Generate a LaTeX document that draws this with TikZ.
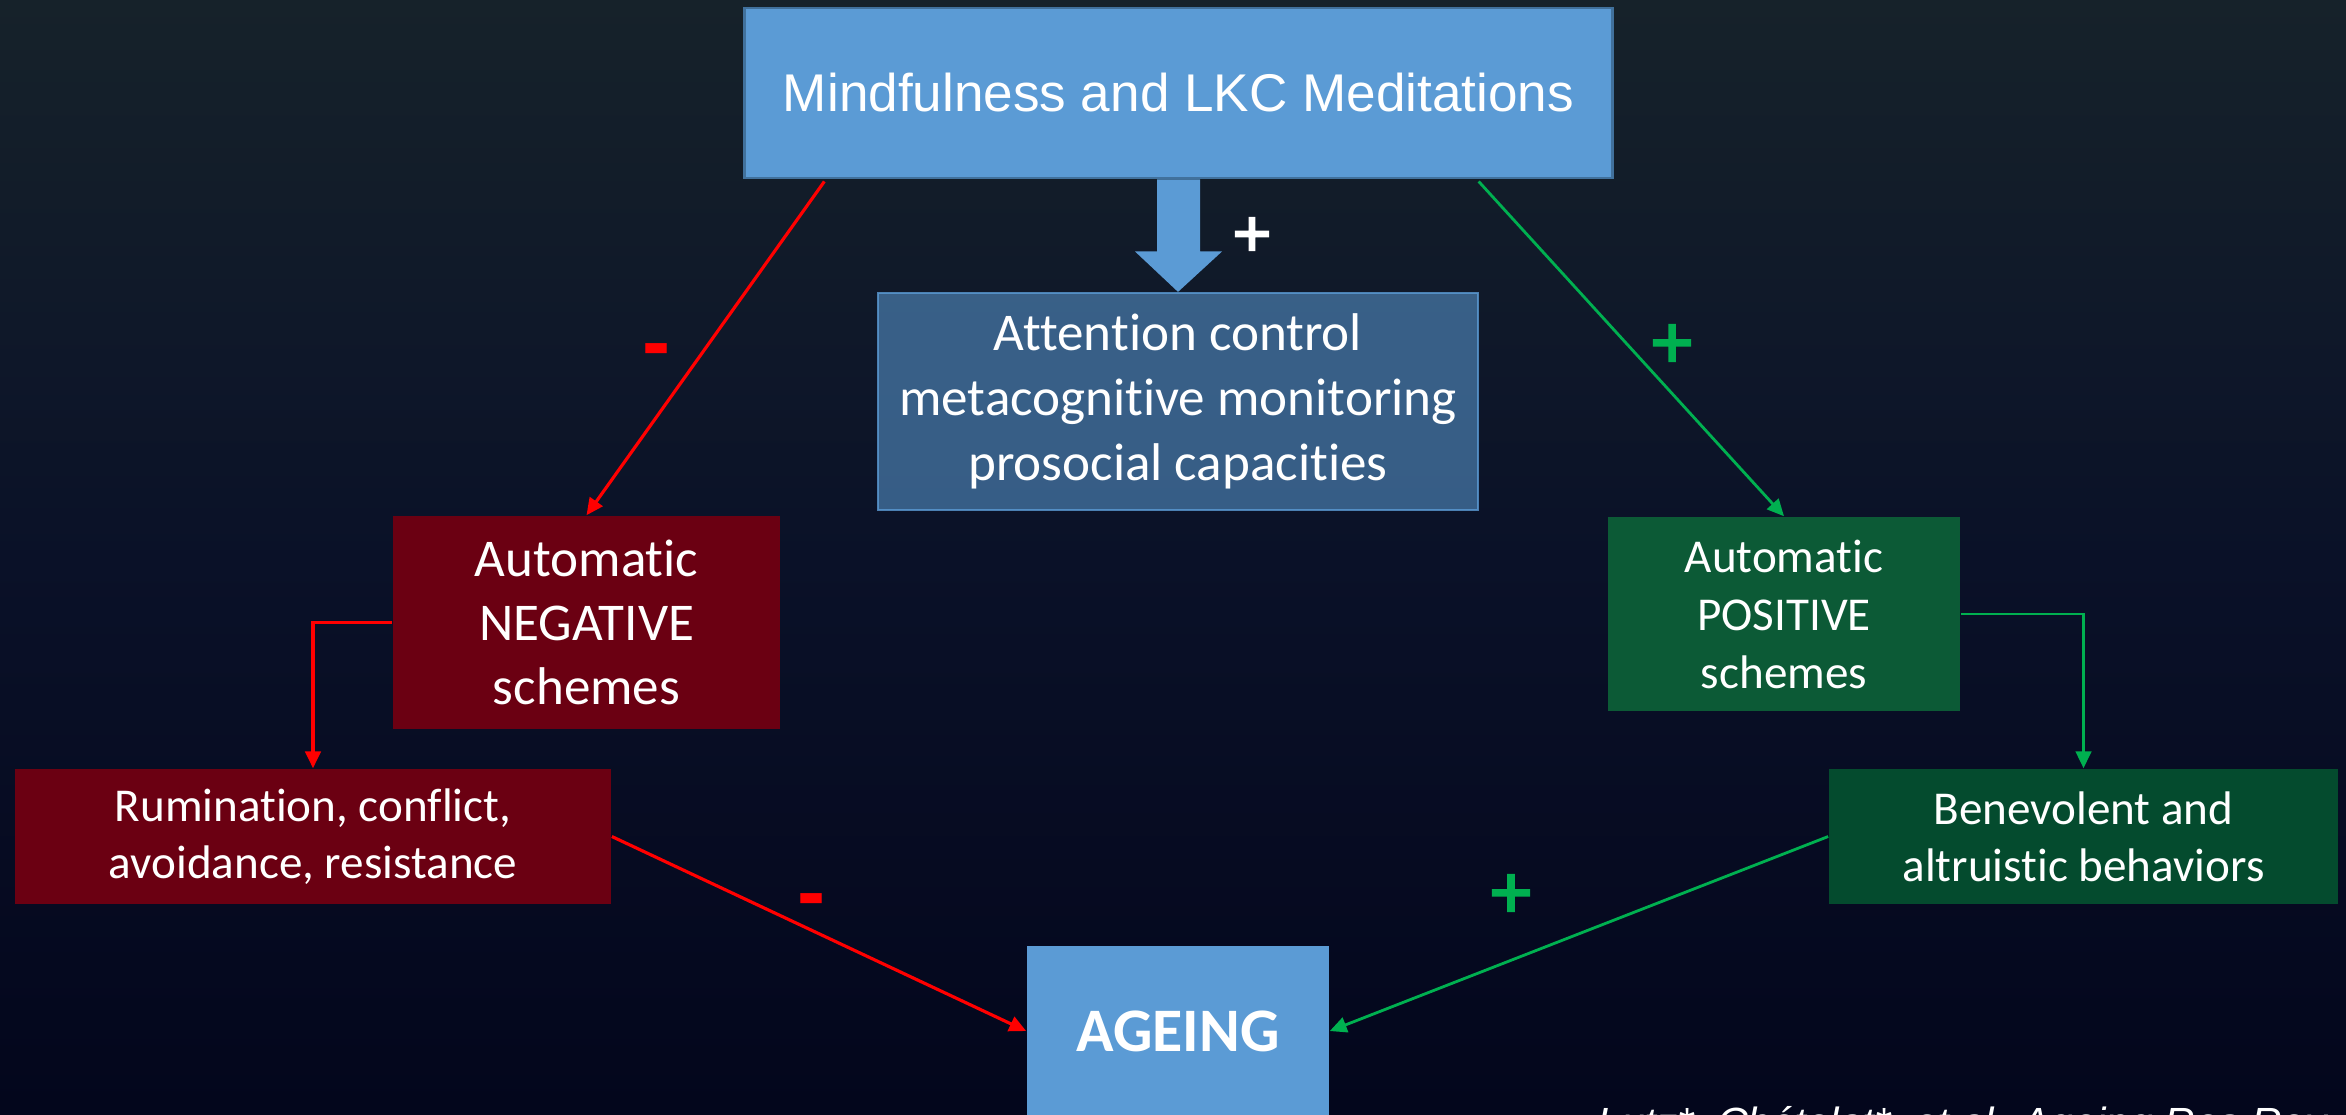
\documentclass[tikz,border=0pt]{standalone}
\usepackage{fontspec}
\setmainfont{Carlito}[Ligatures=NoCommon]
\newfontfamily\arialfont{Liberation Sans}
\newfontfamily\signfont{Liberation Sans}[FakeBold=3]
\usetikzlibrary{arrows.meta,calc}

\definecolor{bgtop}{HTML}{16222A}
\definecolor{bgmid}{HTML}{0A1128}
\definecolor{bgbot}{HTML}{03061C}
\definecolor{boxblue}{HTML}{5B9BD5}
\definecolor{boxblueline}{HTML}{41719C}
\definecolor{negred}{HTML}{6B0012}
\definecolor{posgreen}{HTML}{0C5A36}
\definecolor{behgreen}{HTML}{044B2E}
\definecolor{lred}{HTML}{FF0000}
\definecolor{lgreen}{HTML}{00B050}

\begin{document}
\begin{tikzpicture}[x=0.01cm,y=-0.01cm,
  box/.style={rectangle, inner sep=0pt, align=center, text=white},
  redarrow/.style={draw=lred, line width=0.9pt, -{Triangle[length=4.8pt,width=4.4pt]}},
  greenarrow/.style={draw=lgreen, line width=0.8pt, -{Triangle[length=4.8pt,width=4.4pt]}},
  sign/.style={anchor=base, inner sep=0pt}]

% backdrop
\shade[top color=bgtop, bottom color=bgbot, middle color=bgmid] (0,0) rectangle (2346,1114);
\useasboundingbox (0,0) rectangle (2346,1114);

% boxes
\node[box, fill=boxblue, draw=boxblueline, line width=0.8pt,
      minimum width=8.67cm, minimum height=1.70cm,
      font=\arialfont\fontsize{15.1}{18}\selectfont]
  (top) at (1178.5,93) {Mindfulness and LKC Meditations};

\node[box, fill=boxblue, fill opacity=0.55, text opacity=1,
      draw=boxblue, draw opacity=0.8, line width=0.6pt,
      minimum width=6.00cm, minimum height=2.17cm,
      font=\fontsize{15.1}{18.5}\selectfont]
  (mid) at (1178,401.5) {Attention control\\metacognitive monitoring\\prosocial capacities};

\node[box, fill=negred, minimum width=3.87cm, minimum height=2.13cm,
      font=\fontsize{15.1}{18.2}\selectfont]
  (neg) at (586.5,622.5) {Automatic\\NEGATIVE\\schemes};

\node[box, fill=negred, minimum width=5.96cm, minimum height=1.35cm,
      font=\fontsize{13.4}{16.2}\selectfont]
  (rum) at (313,836.5) {Rumination, conflict,\\avoidance, resistance};

\node[box, fill=posgreen, minimum width=3.52cm, minimum height=1.94cm,
      font=\fontsize{13.4}{16.5}\selectfont]
  (pos) at (1784,614) {Automatic\\POSITIVE\\schemes};

\node[box, fill=behgreen, minimum width=5.09cm, minimum height=1.35cm,
      font=\fontsize{13.4}{16.2}\selectfont]
  (ben) at (2083.5,836.5) {Benevolent and\\altruistic behaviors};

\node[box, fill=boxblue, minimum width=3.02cm, minimum height=1.70cm,
      font=\bfseries\fontsize{17.6}{20}\selectfont]
  (age) at (1178,1031) {AGEING};

% block arrow between the two upper boxes
\fill[boxblue] ($(top.south)+(-21.5,0)$) -- ($(top.south)+(21.5,0)$)
  -- ($(top.south)+(21.5,72)$) -- ($(top.south)+(43.5,72)$) -- (mid.north)
  -- ($(top.south)+(-43.5,72)$) -- ($(top.south)+(-21.5,72)$) -- cycle;

% connectors
\draw[redarrow] ($(top.south west)+(81,2)$) -- (neg.north);
\draw[greenarrow] ($(top.south east)+(-135,2)$) -- (pos.north);
\draw[redarrow] (neg.west) -| (rum.north);
\draw[greenarrow] (pos.east) -| (ben.north);
\draw[redarrow] (rum.east) -- (age.west);
\draw[greenarrow] (ben.west) -- (age.east);

% signs
\node[sign, text=white, font=\signfont\fontsize{18.8}{20}\selectfont] (s1) at (1252,256) {+};
\node[sign, text=lred, font=\arialfont\bfseries\fontsize{24}{26}\selectfont] (s2) at (657,370) {-};
\node[sign, text=lgreen, font=\signfont\fontsize{21}{23}\selectfont] (s3) at (1672,367.5) {+};
\node[sign, text=lred, font=\arialfont\bfseries\fontsize{24}{26}\selectfont] (s4) at (812,920) {-};
\node[sign, text=lgreen, font=\signfont\fontsize{21}{23}\selectfont] (s5) at (1511,917.5) {+};

% reference line
\node[anchor=base west, inner sep=0pt, text=white,
      font=\arialfont\itshape\fontsize{12}{14}\selectfont]
  (ref) at (1597,1137) {Lutz*, Chételat*, et al. Ageing Res Rev};
\end{tikzpicture}
\end{document}
